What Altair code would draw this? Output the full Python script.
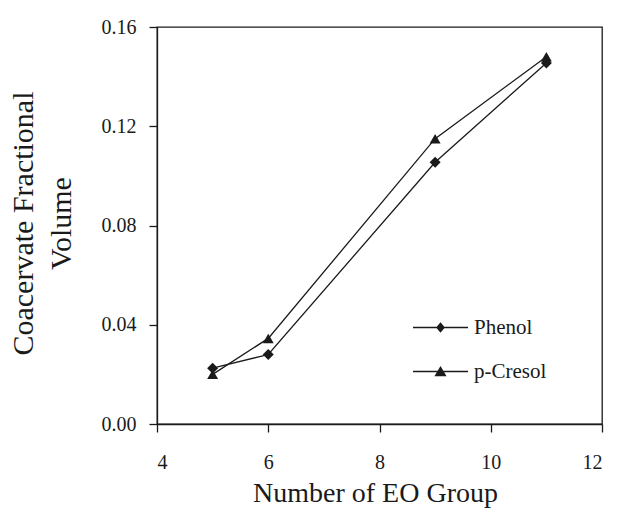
import altair as alt
import pandas as pd

eo_groups = [5, 6, 9, 11]
phenol = [0.0225, 0.028, 0.1055, 0.1455]
p_cresol = [0.020, 0.0345, 0.115, 0.148]
series_names = ["Phenol", "p-Cresol"]
x_ticks = [4, 6, 8, 10, 12]
y_ticks = [0.00, 0.04, 0.08, 0.12, 0.16]

rows = []
for name, vals in zip(series_names, [phenol, p_cresol]):
    for x, y in zip(eo_groups, vals):
        rows.append({"EO": x, "Volume": y, "Series": name})
df = pd.DataFrame(rows)

FONT = "Liberation Serif"
INK = "#1a1a1a"

x_enc = alt.X("EO:Q", scale=alt.Scale(domain=[4, 12], nice=False),
              axis=alt.Axis(values=x_ticks, title="Number of EO Group", format="d",
                            labelPadding=20, titlePadding=7, titleFontSize=28,
                            titleX=218))
y_enc = alt.Y("Volume:Q", scale=alt.Scale(domain=[0, 0.16], nice=False),
              axis=alt.Axis(values=y_ticks, format=".2f",
                            title=["Coacervate Fractional", "Volume"],
                            titleFontSize=30,
                            titleLineHeight=38, titleX=-134, titleY=196,
                            titleAngle=270, titleAlign="center", titleBaseline="middle",
                            labelPadding=13))

lines = alt.Chart(df).mark_line(color=INK, strokeWidth=1.3).encode(
    x=x_enc, y=y_enc, detail="Series:N"
)

points = alt.Chart(df).mark_point(filled=True, color=INK, size=120, opacity=1).encode(
    x="EO:Q", y="Volume:Q",
    shape=alt.Shape("Series:N", scale=alt.Scale(domain=series_names,
                                                 range=["diamond", "triangle-up"]),
                    legend=None),
)

legend_paths = [
    "M-5,-0.12L5,-0.12L5,0.12L-5,0.12ZM0,-0.95L0.8,0L0,0.95L-0.8,0Z",
    "M-5,-0.12L5,-0.12L5,0.12L-5,0.12ZM0,-1L1.1,0.85L-1.1,0.85Z",
]
legend_layer = alt.Chart(df).mark_point(filled=True, color=INK, opacity=0).encode(
    x="EO:Q", y="Volume:Q",
    shape=alt.Shape("Series:N", scale=alt.Scale(domain=series_names, range=legend_paths),
                    legend=alt.Legend(title=None, orient="none", legendX=273, legendY=290,
                                      symbolSize=121, symbolOpacity=1,
                                      symbolFillColor=INK,
                                      labelFont=FONT, labelFontSize=21, labelColor=INK,
                                      labelOffset=23, rowPadding=22, padding=0)),
)

chart = alt.layer(lines, points, legend_layer).resolve_scale(shape="independent").properties(
    width=445, height=397,
    autosize=alt.AutoSizeParams(type="none"),
    padding={"left": 157, "top": 27, "right": 15, "bottom": 86},
    background="white",
).configure_view(
    stroke=INK, strokeWidth=1.3
).configure_axis(
    grid=False, domainColor=INK, domainWidth=1.3, tickColor=INK, tickWidth=1.3,
    tickSize=8, labelFont=FONT, labelFontSize=20, labelColor=INK,
    titleFont=FONT, titleFontWeight="normal", titleColor=INK,
)

chart.save("out.html", embed_options={"renderer": "svg", "actions": False})
